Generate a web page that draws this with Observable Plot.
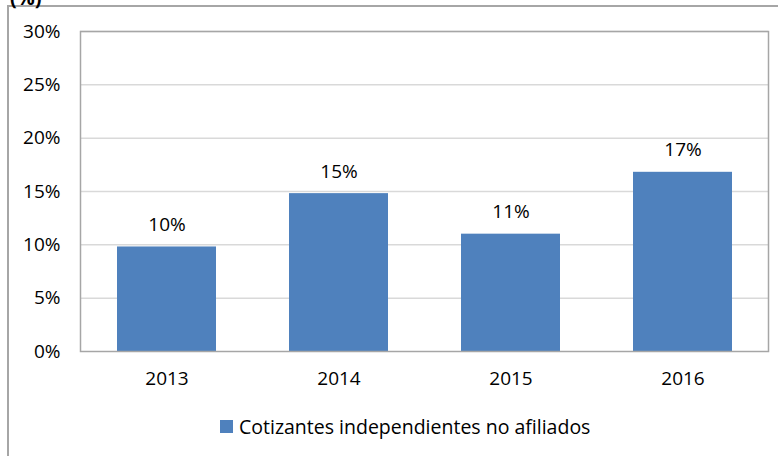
<!DOCTYPE html>
<html><head><meta charset="utf-8">
<script src="https://cdn.jsdelivr.net/npm/d3@7"></script>
<script src="https://cdn.jsdelivr.net/npm/@observablehq/plot@0.6"></script>
<style>
body{margin:0;background:#fff;}
#wrap{position:relative;width:778px;height:456px;overflow:hidden;font-family:"Open Sans", "Liberation Sans", sans-serif;}
#outer{position:absolute;left:7px;top:5px;width:790px;height:470px;border:2px solid #a6a6a6;box-sizing:border-box;}
#unit{position:absolute;left:10px;top:-16px;font-weight:bold;font-size:20px;color:#000;}
#legend{position:absolute;top:413px;left:220px;display:flex;align-items:center;font-size:19.5px;color:#000;}
#legend .sw{width:13px;height:13px;margin-right:6px;}
svg{position:absolute;left:0;top:0;}
</style></head>
<body><div id="wrap"><div id="outer"></div><div id="unit">(%)</div></div>
<script>
const years = ["2013","2014","2015","2016"];
const values = [9.8, 14.8, 11.0, 16.8];
const labels = ["10%","15%","11%","17%"];
const yTicks = [0,5,10,15,20,25,30];
const seriesName = "Cotizantes independientes no afiliados";
const barColor = "#4f81bd";

const data = years.map((y,i)=>({year:y, value:values[i], label:labels[i]}));

const chart = Plot.plot({
  width:778, height:456,
  marginLeft:80, marginRight:10, marginTop:31, marginBottom:105,
  style:{fontFamily:"'Open Sans', 'Liberation Sans', sans-serif", fontSize:"19px", color:"#000", background:"transparent", maxWidth:"none"},
  x:{domain:years, paddingInner:0.425, paddingOuter:0.2125, label:null},
  y:{domain:[0,30], label:null},
  marks:[
    Plot.ruleY(yTicks.slice(1), {stroke:"#d9d9d9", strokeWidth:1.5}),
    Plot.barY(data, {x:"year", y:"value", fill:barColor}),
    Plot.text(data, {x:"year", y:"value", text:"label", dy:-22, fontSize:19, fill:"#000"}),
    Plot.frame({stroke:"#a6a6a6", strokeWidth:1.5}),
    Plot.axisY({ticks:yTicks, tickSize:0, tickPadding:20, tickFormat:d=>d+"%", fontSize:19, textAnchor:"end"}),
    Plot.axisX({tickSize:0, tickPadding:20, fontSize:19})
  ]
});
document.getElementById("wrap").appendChild(chart);

const leg = document.createElement("div");
leg.id = "legend";
leg.innerHTML = `<div class="sw" style="background:${barColor}"></div><span>${seriesName}</span>`;
document.getElementById("wrap").appendChild(leg);
</script></body></html>
